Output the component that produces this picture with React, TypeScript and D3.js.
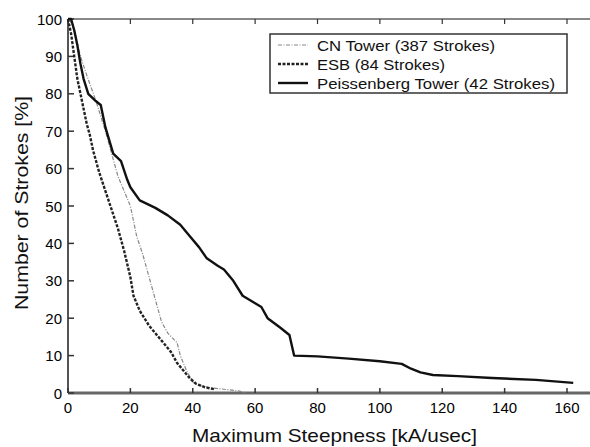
import React from "react";
import * as d3 from "d3";

const xTicks = [0, 20, 40, 60, 80, 100, 120, 140, 160];
const yTicks = [0, 10, 20, 30, 40, 50, 60, 70, 80, 90, 100];

const cnX = [0.5, 2, 4, 6, 9, 12, 14, 16, 18, 20, 22, 24, 26, 28, 30, 32, 35, 36, 38, 40, 42, 45, 50, 55, 57];
const cnY = [100, 97, 90, 85, 78, 70, 64, 58, 54, 50, 42, 37, 31, 25, 19, 16, 13.4, 10, 6, 3, 2, 1.5, 1, 0.5, 0];

const esbX = [0, 1, 2, 3, 4, 5, 6, 7, 8, 10, 12, 14, 16, 18, 20, 21, 23, 26, 28, 30, 33, 35, 37, 39, 41, 44, 47];
const esbY = [100, 96, 90, 84, 80, 76, 72, 69, 65, 59, 54, 49, 44, 38, 31, 26, 22, 18, 16, 14, 11, 8, 6, 4, 2.5, 1.5, 1];

const peiX = [0, 1, 2, 3, 4, 5, 6.5, 9, 10.5, 12, 14.5, 17, 19, 20, 23, 28, 32, 36, 39, 42, 44.5, 48, 50, 53, 56, 60, 62, 64, 68, 71, 72.5, 80, 90, 100, 107, 110, 113, 117, 125, 136, 150, 162];
const peiY = [100, 100, 97, 93, 88, 84, 80, 78, 77, 71, 64, 62, 57, 55, 51.5, 49.5, 47.5, 45, 42, 39, 36, 34, 33, 30, 26, 24, 23, 20, 17.5, 15.5, 10, 9.8, 9.2, 8.5, 7.8, 6.5, 5.5, 4.8, 4.5, 4, 3.5, 2.7];

const legendLabels = ["CN Tower (387 Strokes)", "ESB (84 Strokes)", "Peissenberg Tower (42 Strokes)"];
const legendLengths = [178, 128, 238];

const W = 590;
const H = 447;

export default function App() {
  const x = d3.scaleLinear().domain([0, 160]).range([68, 567]);
  const y = d3.scaleLinear().domain([0, 100]).range([393, 19]);
  const line = d3
    .line<[number, number]>()
    .x((d) => x(d[0]))
    .y((d) => y(d[1]));
  const zip = (a: number[], b: number[]) => a.map((v, i) => [v, b[i]] as [number, number]);

  const series = [
    { pts: zip(cnX, cnY), stroke: "#888", width: 1.2, dash: "4,1.5,1,1.5" },
    { pts: zip(esbX, esbY), stroke: "#222", width: 2.4, dash: "3,1.5" },
    { pts: zip(peiX, peiY), stroke: "#111", width: 2.4, dash: "" },
  ];
  const font = "'Liberation Sans', Arial, sans-serif";

  return (
    <svg width={W} height={H} style={{ position: "absolute", left: 0, top: 0, background: "#fff" }}>
      <rect x={0} y={0} width={W} height={H} fill="#fff" />
      {/* frame */}
      <line x1={68} x2={W} y1={19} y2={19} stroke="#888" strokeWidth={2} />
      <line x1={68} x2={68} y1={19} y2={393} stroke="#555" strokeWidth={2} />
      <line x1={68} x2={W} y1={393} y2={393} stroke="#666" strokeWidth={3} />
      {xTicks.map((t) => (
        <g key={"x" + t}>
          <line x1={x(t)} x2={x(t)} y1={393} y2={388} stroke="#333" strokeWidth={1.5} />
          <line x1={x(t)} x2={x(t)} y1={19} y2={24} stroke="#333" strokeWidth={1.2} />
          <text x={x(t)} y={413} textAnchor="middle" fontFamily={font} fontSize={15} fill="#000">
            {t}
          </text>
        </g>
      ))}
      {yTicks.map((t) => (
        <g key={"y" + t}>
          <line x1={68} x2={74} y1={y(t)} y2={y(t)} stroke="#333" strokeWidth={1.5} />
          <text x={62} y={y(t) + 5.5} textAnchor="end" fontFamily={font} fontSize={15} fill="#000">
            {t}
          </text>
        </g>
      ))}
      {series.map((s, i) => (
        <path
          key={i}
          d={line(s.pts) || ""}
          fill="none"
          stroke={s.stroke}
          strokeWidth={s.width}
          strokeDasharray={s.dash || undefined}
          strokeLinejoin="round"
        />
      ))}
      {/* legend */}
      <rect x={270} y={34} width={297} height={59} fill="#fff" stroke="#333" strokeWidth={1.5} />
      {legendLabels.map((lab, i) => {
        const cy = 45 + i * 19;
        const s = series[i];
        return (
          <g key={lab}>
            <line x1={278} x2={308} y1={cy} y2={cy} stroke={s.stroke} strokeWidth={s.width} strokeDasharray={s.dash || undefined} />
            <text
              x={317}
              y={cy + 5.5}
              fontFamily={font}
              fontSize={15.5}
              fill="#111"
              textLength={legendLengths[i]}
              lengthAdjust="spacingAndGlyphs"
            >
              {lab}
            </text>
          </g>
        );
      })}
      <text
        x={192}
        y={442}
        fontFamily={font}
        fontSize={19}
        fill="#111"
        textLength={285}
        lengthAdjust="spacingAndGlyphs"
      >
        Maximum Steepness [kA/usec]
      </text>
      <text
        transform={`translate(28,310) rotate(-90)`}
        fontFamily={font}
        fontSize={19}
        fill="#111"
        textLength={214}
        lengthAdjust="spacingAndGlyphs"
      >
        Number of Strokes [%]
      </text>
    </svg>
  );
}
